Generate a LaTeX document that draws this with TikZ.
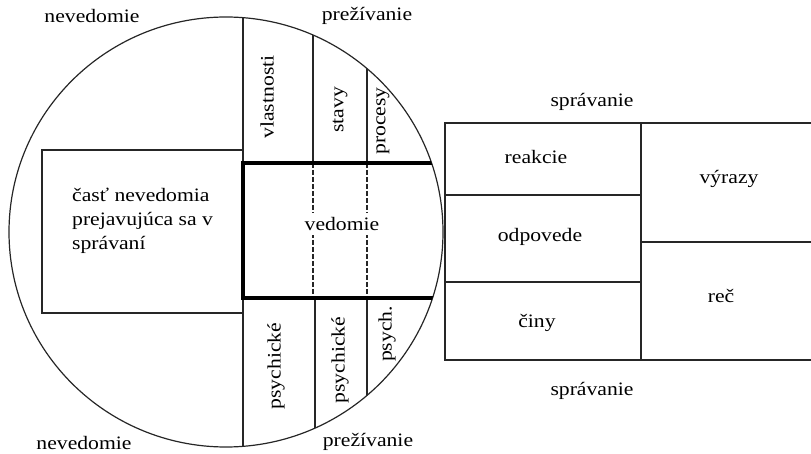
\documentclass[tikz,border=0pt]{standalone}
\usepackage{fontspec}
\setmainfont[FakeStretch=1.14]{Liberation Serif}
\begin{document}
\begin{tikzpicture}[x=1pt,y=-1pt,
  thinline/.style={line width=1.2pt, draw=black!85},
  thickline/.style={line width=3.6pt, draw=black},
  lbl/.style={inner sep=1pt, font=\fontsize{19}{24}\selectfont},
  vlbl/.style={lbl, rotate=90}]
\useasboundingbox (0,0) rectangle (811,454);
% circle
\coordinate (c) at (226,232);
\draw[thinline] (c) ellipse [x radius=217, y radius=215];
% left box
\draw[thinline] (42,150) rectangle (243,313);
\node[lbl, anchor=west, align=left] (part) at (71,221) {časť nevedomia\\prejavujúca sa v\\správaní};
% column lines clipped to the circle
\begin{scope}
  \clip (c) ellipse [x radius=217, y radius=215];
  \draw[thinline] (243,0) -- (243,460);
  \draw[thinline] (313,0) -- (313,163);
  \draw[thinline] (367,0) -- (367,163);
  \draw[thinline] (315,298) -- (315,460);
  \draw[thinline] (367,298) -- (367,460);
  \draw[thinline, dash pattern=on 5pt off 2pt] (313,163) -- (313,298);
  \draw[thinline, dash pattern=on 5pt off 2pt] (367,163) -- (367,298);
  \draw[thickline] (243,163) -- (460,163);
  \draw[thickline] (243,298) -- (460,298);
\end{scope}
\draw[thickline] (243,161.2) -- (243,299.8);
\node[lbl, fill=white, inner sep=4pt] (ved) at (342,224) {vedomie};
% rotated labels
\node[vlbl] (vl) at (267,97) {vlastnosti};
\node[vlbl] (st) at (340,110) {stavy};
\node[vlbl] (pr) at (383,121) {procesy};
\node[vlbl] (ps1) at (276,366) {psychické};
\node[vlbl] (ps2) at (340,360) {psychické};
\node[vlbl] (ps3) at (387,334) {psych.};
% outer labels
\node[lbl] (nev1) at (92,16) {nevedomie};
\node[lbl] (nev2) at (84,443) {nevedomie};
\node[lbl] (pre1) at (367,16) {prežívanie};
\node[lbl] (pre2) at (368,442) {prežívanie};
% right table
\draw[thinline] (812,123) -- (445,123) -- (445,360) -- (812,360);
\draw[thinline] (641,123) -- (641,360);
\draw[thinline] (445,195) -- (641,195);
\draw[thinline] (445,282) -- (641,282);
\draw[thinline] (641,242) -- (812,242);
\node[lbl] (spr1) at (592,102) {správanie};
\node[lbl] (spr2) at (592,391) {správanie};
\node[lbl] (rea) at (536,157) {reakcie};
\node[lbl] (odp) at (540,237) {odpovede};
\node[lbl] (cin) at (537,323) {činy};
\node[lbl] (vyr) at (729,179) {výrazy};
\node[lbl] (rec) at (721,296) {reč};
\end{tikzpicture}
\end{document}
